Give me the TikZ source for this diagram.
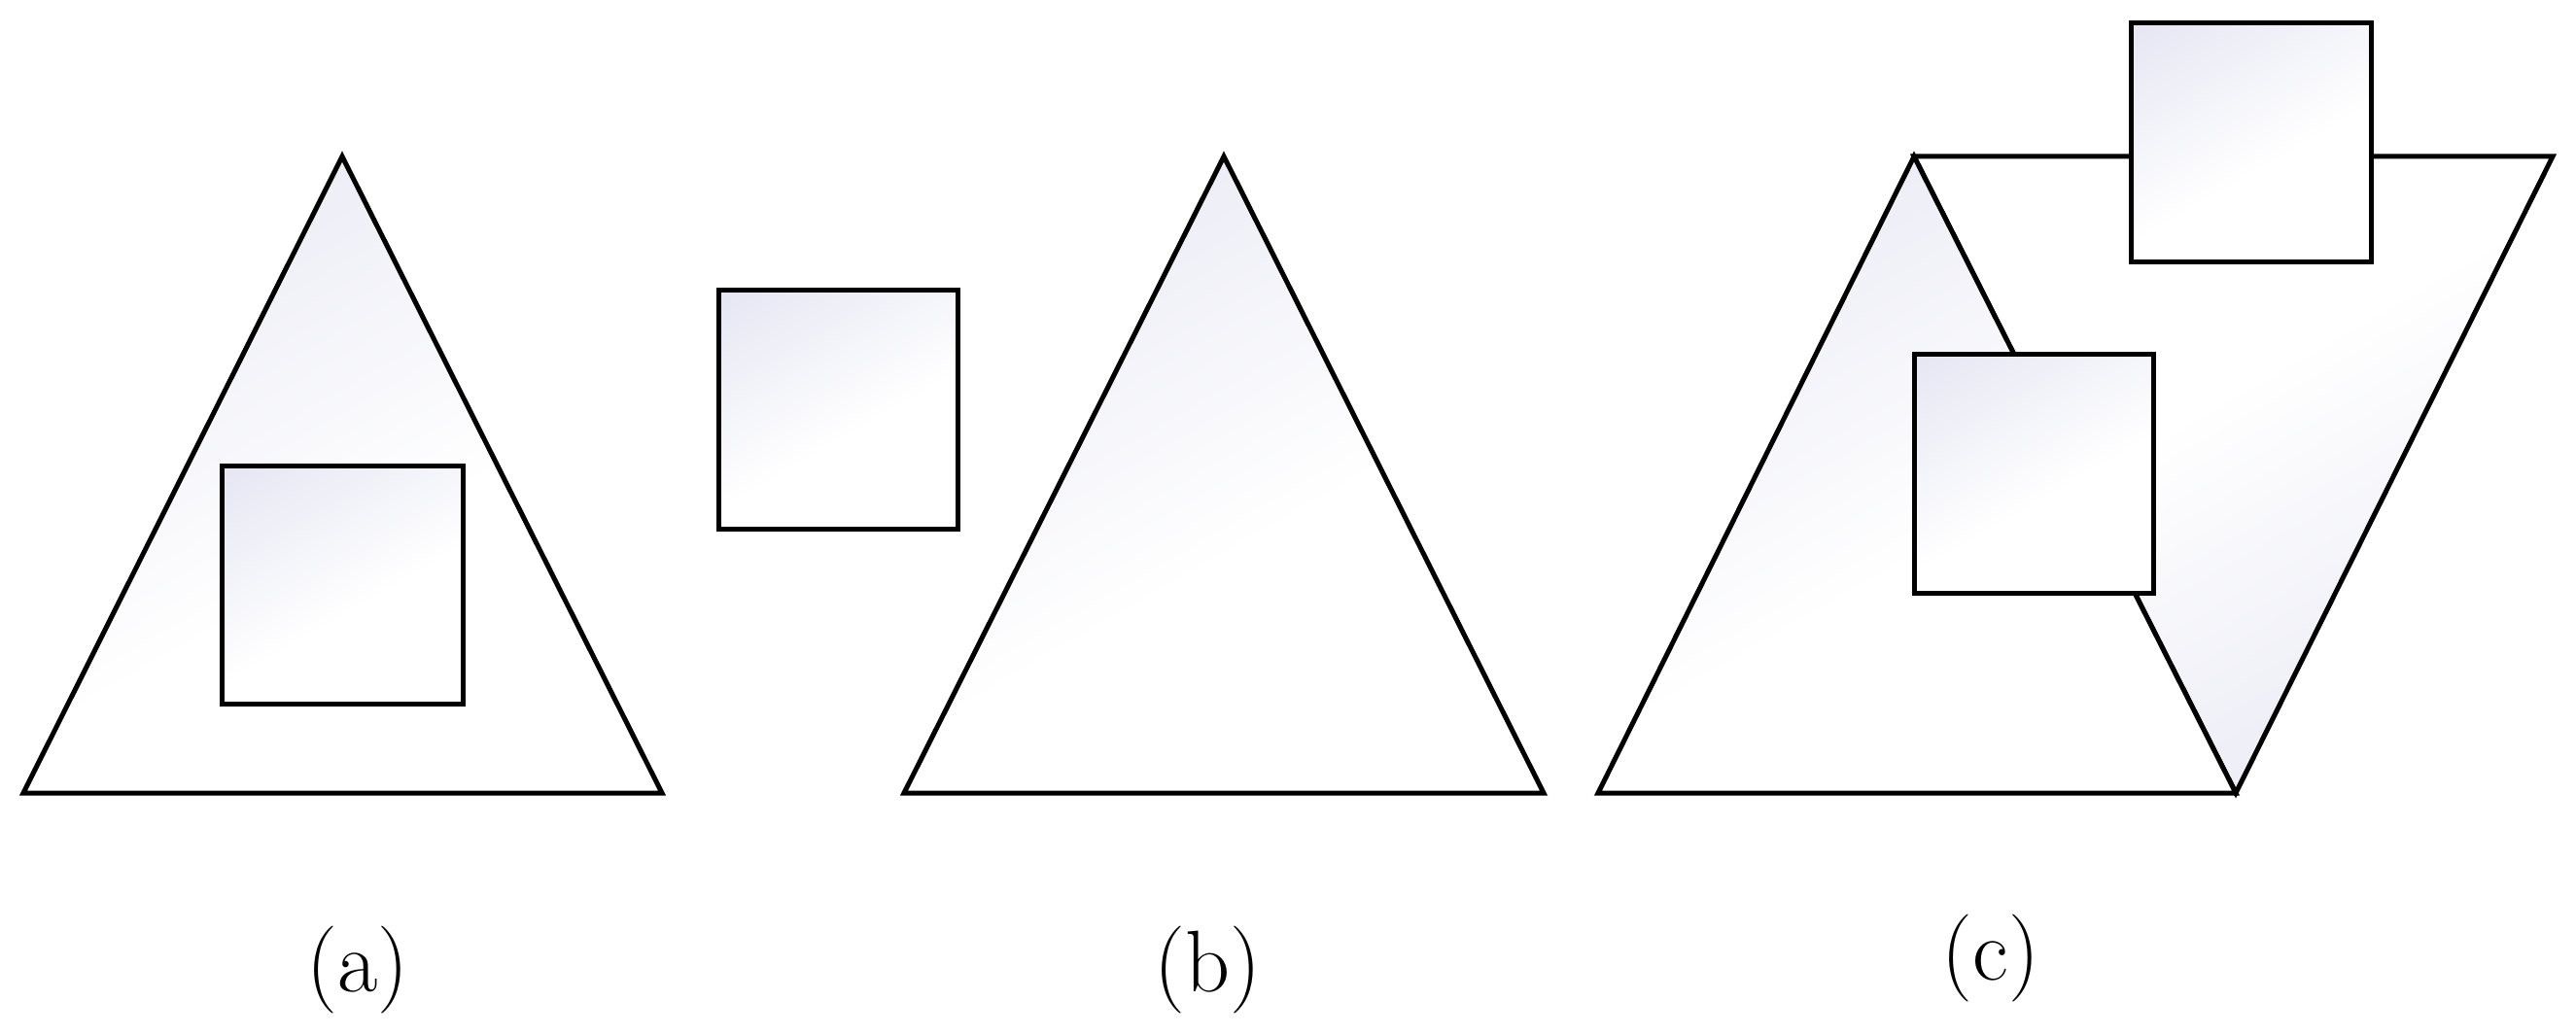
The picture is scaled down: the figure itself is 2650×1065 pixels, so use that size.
\documentclass[tikz,border=0pt]{standalone}
\definecolor{lav}{RGB}{230,231,243}
\pgfdeclarehorizontalshading{softshade}{100bp}{color(0bp)=(lav); color(18bp)=(lav); color(56bp)=(white); color(100bp)=(white)}
\tikzset{
  shape/.style={draw=black, line width=1pt, line join=miter, shading=softshade, shading angle=#1},
  shape/.default=-60,
  lab/.style={font=\fontsize{18}{21}\selectfont, inner sep=0pt}
}
\begin{document}
\begin{tikzpicture}[x=0.2pt, y=-0.2pt]
\useasboundingbox (0,0) rectangle (2650,1065);
% (a)
\draw[shape] (352,161) -- (681,816) -- (24,816) -- cycle;
\draw[shape] (228,479) rectangle (476,724);
\node[lab] (la) at (368,998) {(a)};
% (b)
\draw[shape] (739,299) rectangle (985,544);
\draw[shape] (1259,161) -- (1588,816) -- (930,816) -- cycle;
\node[lab] (lb) at (1242,998) {(b)};
% (c)
\draw[shape=120] (1969,161) -- (2626,161) -- (2300,816) -- cycle;
\draw[shape] (1969,161) -- (2300,816) -- (1644,816) -- cycle;
\draw[shape] (2192,24) rectangle (2439,270);
\draw[shape] (1969,364) rectangle (2215,610);
\node[lab] (lc) at (2048,986) {(c)};
\end{tikzpicture}
\end{document}
